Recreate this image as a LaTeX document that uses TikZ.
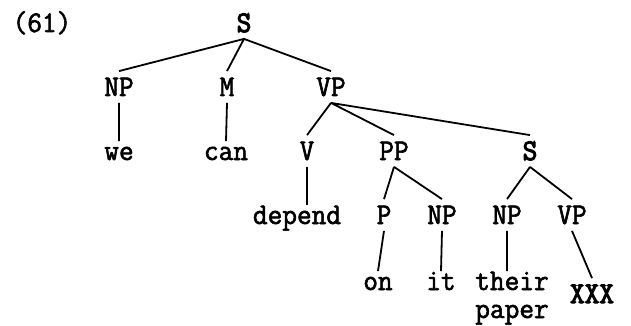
\documentclass[tikz,border=0pt]{standalone}
\usepackage{fontspec}
\newfontfamily\tw[FakeBold=2,FakeStretch=0.95]{Latin Modern Mono}
\newfontfamily\twb[FakeBold=3.5,FakeStretch=0.95]{Latin Modern Mono}
\begin{document}
\begin{tikzpicture}[x=0.5pt,y=-0.5pt,line width=0.9pt,
  cat/.style={font=\fontsize{15}{14}\selectfont\tw,inner xsep=0pt,inner ysep=3pt,text height=9pt,text depth=0pt,anchor=base},
  word/.style={cat,text height=6pt},
  heavy/.style={cat,font=\fontsize{15}{14}\selectfont\twb}]
\useasboundingbox (0,0) rectangle (631,326);
\node[cat] (ex) at (42,32) {(61)};
\node[heavy] (s) at (244,32) {S};
\node[cat] (np) at (119,96) {NP};
\node[cat] (m) at (227,96) {M};
\node[cat] (vp) at (331,96) {VP};
\node[word] (we) at (119,160) {we};
\node[word] (can) at (226,160) {can};
\node[cat] (v) at (307,160) {V};
\node[cat] (pp) at (394,160) {PP};
\node[heavy] (s2) at (530,160) {S};
\node[word] (depend) at (297,224) {depend};
\node[cat] (p) at (384,224) {P};
\node[cat] (np2) at (442,224) {NP};
\node[cat] (np3) at (507,224) {NP};
\node[cat] (vp2) at (572,224) {VP};
\node[word] (on) at (378,290) {on};
\node[word] (it) at (441,290) {it};
\node[word] (their) at (512,290) {their};
\node[word] (paper) at (512,318) {paper};
\node[heavy] (xxx) at (592,303) {XXX};
\draw (s.south)--(np.north) (s.south)--(m.north) (s.south)--(vp.north);
\draw (np.south)--(we.north) (m.south)--(can.north);
\draw (vp.south)--(v.north) (vp.south)--(pp.north) (vp.south)--(s2.north);
\draw (v.south)--(v.south|-depend.north);
\draw (pp.south)--(p.north) (pp.south)--(np2.north);
\draw (s2.south)--(np3.north) (s2.south)--(vp2.north);
\draw (p.south)--(on.north) (np2.south)--(it.north) (np3.south)--(np3.south|-their.north) (vp2.south)--(xxx.north);
\end{tikzpicture}
\end{document}
